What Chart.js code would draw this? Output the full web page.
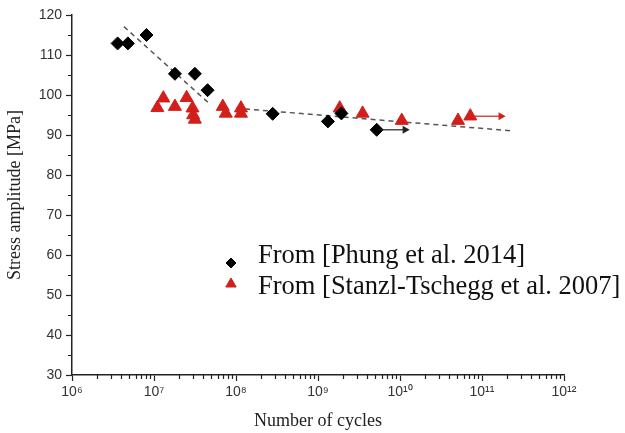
<!DOCTYPE html>
<html>
<head>
<meta charset="utf-8">
<script src="https://cdn.jsdelivr.net/npm/chart.js@4.4.1/dist/chart.umd.min.js"></script>
<style>
  html, body { margin: 0; padding: 0; background: #fff; }
  #wrap { width: 625px; height: 433px; }
</style>
</head>
<body>
<div id="wrap"><canvas id="chart"></canvas></div>
<script>
// From [Phung et al. 2014] - black diamonds
const phungCycles = [3.6e6, 4.8e6, 8.1e6, 1.8e7, 3.15e7, 4.5e7, 2.8e8, 1.32e9, 1.93e9, 5.2e9];
const phungStress = [112.9, 112.9, 115.0, 105.3, 105.3, 101.2, 95.3, 93.4, 95.4, 91.3];

// From [Stanzl-Tschegg et al. 2007] - red triangles
const stanzlCycles = [1.1e7, 1.3e7, 1.8e7, 2.5e7, 2.95e7, 3.0e7, 3.15e7, 6.9e7, 7.5e7, 1.15e8, 1.15e8, 1.84e9, 3.5e9, 1.05e10, 5.1e10, 7.2e10];
const stanzlStress = [96.8, 99.2, 97.1, 99.3, 96.7, 95.0, 93.9, 97.1, 95.4, 96.7, 95.4, 96.7, 95.4, 93.6, 93.6, 94.7];

// dashed trend lines
const trend1Cycles = [4.3e6, 4.7e7];
const trend1Stress = [117.1, 97.9];
const trend2Cycles = [1.0e8, 2.4e11];
const trend2Stress = [96.7, 91.0];

// run-out arrows
const runoutBlackCycles = [5.6e9, 1.15e10];
const runoutBlackStress = [91.3, 91.3];
const runoutRedCycles = [8.2e10, 1.7e11];
const runoutRedStress = [94.7, 94.7];

// axes
const xDecades = [1e6, 1e7, 1e8, 1e9, 1e10, 1e11, 1e12];
const xTickLabels = ['10⁶', '10⁷', '10⁸', '10⁹', '10¹⁰', '10¹¹', '10¹²'];
const yMin = 30, yMax = 120, yStep = 5, yLabelStep = 10;

const RED = '#d21f1c';
const AXIS = '#222';

function pts(xs, ys) {
  return xs.map((x, i) => ({ x: x, y: ys[i] }));
}

// all log ticks: decades plus 2..9 between them
const xTickValues = [];
xDecades.forEach((d, i) => {
  xTickValues.push(d);
  if (i < xDecades.length - 1) {
    for (let k = 2; k <= 9; k++) xTickValues.push(d * k);
  }
});

function isDecade(v) {
  const l = Math.log10(v);
  return Math.abs(l - Math.round(l)) < 1e-9;
}

// short minor ticks drawn by hand, major ones come from the grid
const minorTicks = {
  id: 'minorTicks',
  afterDraw(chart) {
    const ctx = chart.ctx;
    const xs = chart.scales.x, ys = chart.scales.y;
    const area = chart.chartArea;
    ctx.save();
    ctx.strokeStyle = AXIS;
    ctx.lineWidth = 1.2;
    ctx.beginPath();
    xs.ticks.forEach(t => {
      if (isDecade(t.value)) return;
      const px = Math.round(xs.getPixelForValue(t.value)) + 0.5;
      ctx.moveTo(px, area.bottom);
      ctx.lineTo(px, area.bottom + 4);
    });
    ys.ticks.forEach(t => {
      if (t.value % yLabelStep === 0) return;
      const py = Math.round(ys.getPixelForValue(t.value)) + 0.5;
      ctx.moveTo(area.left, py);
      ctx.lineTo(area.left - 4, py);
    });
    ctx.stroke();
    ctx.restore();
  }
};

// legend sitting inside the plot
const insideLegend = {
  id: 'insideLegend',
  afterDatasetsDraw(chart) {
    const ctx = chart.ctx;
    const area = chart.chartArea;
    const rows = [
      { ds: chart.data.datasets[0], dy: 241, my: 248 },
      { ds: chart.data.datasets[1], dy: 272, my: 269 }
    ];
    ctx.save();
    rows.forEach(r => {
      ctx.fillStyle = r.ds.backgroundColor;
      ctx.strokeStyle = r.ds.borderColor;
      Chart.helpers.drawPoint(ctx, {
        pointStyle: r.ds.pointStyle,
        radius: r.ds.pointStyle === 'triangle' ? 6 : 5,
        rotation: 0,
        borderWidth: 1
      }, area.left + 159, area.top + r.my);
      ctx.fillStyle = '#111';
      ctx.font = '26.5px "Liberation Serif", "Times New Roman", serif';
      ctx.textBaseline = 'middle';
      ctx.textAlign = 'left';
      ctx.fillText(r.ds.label, area.left + 186, area.top + r.dy);
    });
    ctx.restore();
  }
};

const whiteBg = {
  id: 'whiteBg',
  beforeDraw(chart) {
    const ctx = chart.ctx;
    ctx.save();
    ctx.fillStyle = '#fff';
    ctx.fillRect(0, 0, chart.width, chart.height);
    ctx.restore();
  }
};

new Chart(document.getElementById('chart'), {
  type: 'scatter',
  data: {
    datasets: [
      {
        label: 'From [Phung et al. 2014]',
        data: pts(phungCycles, phungStress),
        pointStyle: 'rectRot',
        pointRadius: 6.5,
        backgroundColor: '#000',
        borderColor: '#000',
        borderWidth: 1,
        order: 1
      },
      {
        label: 'From [Stanzl-Tschegg et al. 2007]',
        data: pts(stanzlCycles, stanzlStress),
        pointStyle: 'triangle',
        pointRadius: 7.5,
        backgroundColor: RED,
        borderColor: RED,
        borderWidth: 1,
        order: 2
      },
      {
        label: 'trend1',
        data: pts(trend1Cycles, trend1Stress),
        showLine: true,
        pointRadius: 0,
        borderColor: '#555',
        borderWidth: 1.5,
        borderDash: [5, 4],
        order: 3
      },
      {
        label: 'trend2',
        data: pts(trend2Cycles, trend2Stress),
        showLine: true,
        pointRadius: 0,
        borderColor: '#555',
        borderWidth: 1.5,
        borderDash: [5, 4],
        order: 3
      },
      {
        label: 'runoutBlack',
        data: pts(runoutBlackCycles, runoutBlackStress),
        showLine: true,
        borderColor: '#222',
        backgroundColor: '#222',
        borderWidth: 1.2,
        pointStyle: 'triangle',
        pointRadius: [0, 3.5],
        pointRotation: 90,
        order: 0
      },
      {
        label: 'runoutRed',
        data: pts(runoutRedCycles, runoutRedStress),
        showLine: true,
        borderColor: RED,
        backgroundColor: RED,
        borderWidth: 1.2,
        pointStyle: 'triangle',
        pointRadius: [0, 3.5],
        pointRotation: 90,
        order: 0
      }
    ]
  },
  options: {
    responsive: true,
    maintainAspectRatio: false,
    animation: false,
    layout: { padding: { top: 15, right: 61, left: 0, bottom: 0 } },
    plugins: {
      legend: { display: false },
      tooltip: { enabled: false }
    },
    scales: {
      x: {
        type: 'logarithmic',
        min: xDecades[0],
        max: xDecades[xDecades.length - 1],
        afterBuildTicks: s => { s.ticks = xTickValues.map(v => ({ value: v })); },
        afterFit: s => { s.height = 58; },
        border: { display: true, color: AXIS, width: 1.5 },
        grid: {
          display: true,
          drawOnChartArea: false,
          drawTicks: true,
          tickLength: 6,
          tickWidth: 1.2,
          tickColor: c => (c.tick && isDecade(c.tick.value)) ? AXIS : 'rgba(0,0,0,0)'
        },
        ticks: {
          autoSkip: false,
          maxRotation: 0,
          padding: 3,
          color: '#333',
          font: { family: '"Liberation Sans", Arial, sans-serif', size: 14 },
          callback: v => {
            const i = xDecades.findIndex(d => Math.abs(Math.log10(d) - Math.log10(v)) < 1e-9);
            return i >= 0 ? xTickLabels[i] : '';
          }
        },
        title: {
          display: true,
          text: 'Number of cycles',
          color: '#222',
          font: { family: '"Liberation Serif", "Times New Roman", serif', size: 18 },
          padding: { top: 2, bottom: 1 }
        }
      },
      y: {
        min: yMin,
        max: yMax,
        afterFit: s => { s.width = 72; },
        border: { display: true, color: AXIS, width: 1.5 },
        grid: {
          display: true,
          drawOnChartArea: false,
          drawTicks: true,
          tickLength: 6,
          tickWidth: 1.2,
          tickColor: c => (c.tick && c.tick.value % yLabelStep === 0) ? AXIS : 'rgba(0,0,0,0)'
        },
        ticks: {
          stepSize: yStep,
          autoSkip: false,
          padding: 4,
          color: '#333',
          font: { family: '"Liberation Sans", Arial, sans-serif', size: 14 },
          callback: v => (v % yLabelStep === 0 ? String(v) : '')
        },
        title: {
          display: true,
          text: 'Stress amplitude [MPa]',
          color: '#222',
          font: { family: '"Liberation Serif", "Times New Roman", serif', size: 18 },
          padding: { top: 4, bottom: 4 }
        }
      }
    }
  },
  plugins: [whiteBg, minorTicks, insideLegend]
});
</script>
</body>
</html>
